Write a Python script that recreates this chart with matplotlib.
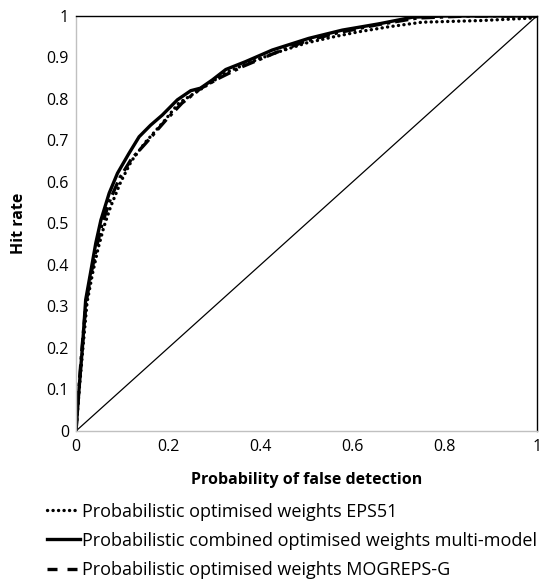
import matplotlib
matplotlib.use("Agg")
import matplotlib.pyplot as plt
from matplotlib.lines import Line2D

plt.rcParams['font.family'] = ['Open Sans', 'DejaVu Sans']

# ROC curves
eps_fpr = [0, 0.007, 0.015, 0.024, 0.036, 0.048, 0.06, 0.075, 0.097, 0.12, 0.15, 0.19, 0.223,
           0.27, 0.325, 0.37, 0.43, 0.5, 0.56, 0.614, 0.679, 0.751, 0.88, 0.99, 1.0]
eps_hr = [0, 0.1, 0.2, 0.31, 0.38, 0.44, 0.49, 0.54, 0.60, 0.65, 0.695, 0.745, 0.79,
          0.823, 0.863, 0.885, 0.91, 0.935, 0.95, 0.962, 0.974, 0.985, 0.989, 0.995, 1.0]

multi_fpr = [0, 0.0065, 0.014, 0.021, 0.032, 0.043, 0.054, 0.072, 0.09, 0.115, 0.137, 0.162,
             0.187, 0.22, 0.249, 0.27, 0.296, 0.325, 0.368, 0.426, 0.505, 0.578, 0.657, 0.73,
             0.8, 0.9, 1.0]
multi_hr = [0, 0.1, 0.203, 0.316, 0.384, 0.453, 0.508, 0.573, 0.621, 0.669, 0.709, 0.737,
            0.761, 0.798, 0.82, 0.826, 0.846, 0.871, 0.89, 0.918, 0.946, 0.966, 0.981, 0.997,
            1.0, 1.0, 1.0]

mog_fpr = [0, 0.006, 0.013, 0.022, 0.033, 0.045, 0.057, 0.075, 0.095, 0.12, 0.151, 0.195,
           0.23, 0.27, 0.31, 0.361, 0.43, 0.5, 0.57, 0.65, 0.74, 0.85, 1.0]
mog_hr = [0, 0.1, 0.2, 0.31, 0.38, 0.445, 0.5, 0.56, 0.61, 0.655, 0.693, 0.749,
          0.79, 0.825, 0.85, 0.878, 0.91, 0.94, 0.96, 0.978, 0.995, 1.0, 1.0]

labels = ['Probabilistic optimised weights EPS51',
          'Probabilistic combined optimised weights multi-model',
          'Probabilistic optimised weights MOGREPS-G']
xticks = [0, 0.2, 0.4, 0.6, 0.8, 1]
xticklabels = ['0', '0.2', '0.4', '0.6', '0.8', '1']
yticks = [0, 0.1, 0.2, 0.3, 0.4, 0.5, 0.6, 0.7, 0.8, 0.9, 1]
yticklabels = ['0', '0.1', '0.2', '0.3', '0.4', '0.5', '0.6', '0.7', '0.8', '0.9', '1']

fig = plt.figure(figsize=(5.39, 5.81), dpi=100)
ax = fig.add_axes([0.141, 0.2582, 0.855, 0.7143])

ax.plot([0, 1], [0, 1], color='black', lw=0.9)
l1, = ax.plot(eps_fpr, eps_hr, color='black', lw=2.4, linestyle=(0, (0.05, 1.6)),
              dash_capstyle='round')
l2, = ax.plot(multi_fpr, multi_hr, color='black', lw=2.4)
l3, = ax.plot(mog_fpr, mog_hr, color='black', lw=2.4, linestyle=(0, (4, 1.5, 1, 1.5)))

ax.set_xlim(0, 1)
ax.set_ylim(0, 1)
ax.set_xticks(xticks)
ax.set_xticklabels(xticklabels)
ax.set_yticks(yticks)
ax.set_yticklabels(yticklabels)
ax.tick_params(length=0, labelsize=11.5, pad=5)
ax.tick_params(axis='x', pad=6)

for s in ['left', 'bottom']:
    ax.spines[s].set_color('#c0c0c0')
    ax.spines[s].set_linewidth(1)
for s in ['top', 'right']:
    ax.spines[s].set_color('black')
    ax.spines[s].set_linewidth(1)

ax.set_xlabel('Probability of false detection', fontsize=11.5, fontweight='bold', labelpad=12)
ax.set_ylabel('Hit rate', fontsize=11.5, fontweight='bold', labelpad=14)

# legend handle for MOGREPS-G shows as dashes
h1 = Line2D([], [], color='black', lw=2.4, linestyle=(0, (0.05, 1.6)), dash_capstyle='round')
h3 = Line2D([], [], color='black', lw=2.4, linestyle=(0, (3, 3)))
fig.legend([h1, l2, h3], labels, loc='upper left', bbox_to_anchor=(0.087, 0.135),
           frameon=False, fontsize=13, handlelength=1.85, handletextpad=0.12,
           labelspacing=0.62, borderpad=0, borderaxespad=0)

fig.savefig('out.png', dpi=100)
